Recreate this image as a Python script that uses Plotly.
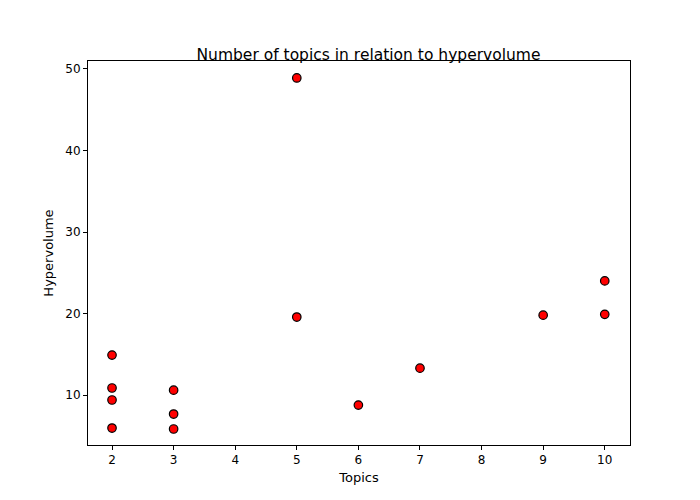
import plotly.graph_objects as go

topics = [2, 2, 2, 2, 3, 3, 3, 5, 5, 6, 7, 9, 10, 10]
hypervolume = [14.9, 10.86, 9.39, 5.95, 10.6, 7.67, 5.83, 48.9, 19.57, 8.77, 13.3, 19.8, 24.0, 19.9]

fig = go.Figure(go.Scatter(
    x=topics, y=hypervolume, mode="markers",
    marker=dict(color="red", size=8.5, line=dict(color="black", width=1.2)),
))

axis = dict(showgrid=False, zeroline=False, showline=True, mirror=True, linecolor="black",
            linewidth=1, ticks="outside", ticklen=4, tickcolor="black")
fig.update_xaxes(axis, range=[1.61, 10.41], dtick=1,
                 title=dict(text="Topics", standoff=6, font=dict(size=13)))
fig.update_yaxes(axis, range=[3.87, 50.98], tickvals=[10, 20, 30, 40, 50],
                 title=dict(text="Hypervolume", standoff=8, font=dict(size=13)))

fig.update_layout(
    width=700, height=500,
    margin=dict(l=80, r=78, t=53, b=63),
    plot_bgcolor="white", paper_bgcolor="white",
    font=dict(family="DejaVu Sans", size=12, color="black"),
    title=dict(text="Number of topics in relation to hypervolume", x=0.515, xanchor="center",
               y=0.907, yanchor="middle", font=dict(size=15.5)),
    showlegend=False,
)
fig.write_html("out.html")
